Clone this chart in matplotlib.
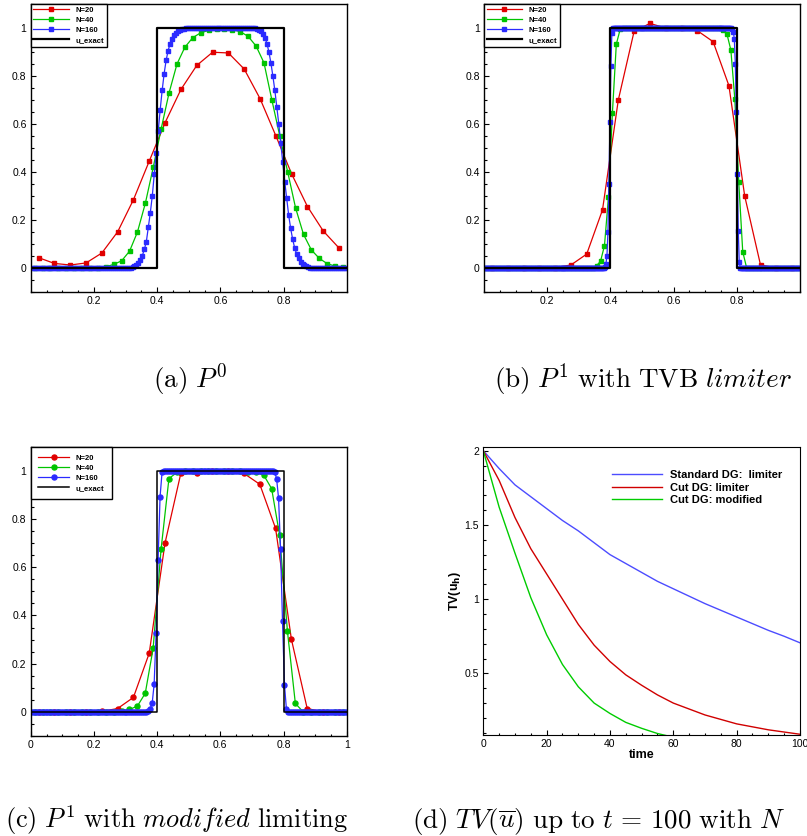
import numpy as np
import matplotlib.pyplot as plt
from matplotlib.ticker import MultipleLocator

plt.rcParams["font.family"] = ["Liberation Sans", "DejaVu Sans"]

# cell centres of the meshes
x20 = (np.arange(20) + 0.5) / 20
x40 = (np.arange(40) + 0.5) / 40
x80 = (np.arange(80) + 0.5) / 80
x160 = (np.arange(160) + 0.5) / 160
x320 = (np.arange(320) + 0.5) / 320

x_exact = [0.0, 0.4, 0.4, 0.8, 0.8, 1.0]
u_exact = [0.0, 0.0, 1.0, 1.0, 0.0, 0.0]

# (a) P0
a_n20 = [0.043, 0.019, 0.0125, 0.021, 0.0625, 0.151, 0.285, 0.446, 0.606, 0.744,
         0.844, 0.899, 0.896, 0.829, 0.706, 0.551, 0.392, 0.256, 0.154, 0.083]
a_n40 = [0.002, 0.001, 0.0, 0.0, 0.0, 0.0, 0.0, 0.0, 0.001, 0.005,
         0.015, 0.03, 0.07, 0.15, 0.27, 0.42, 0.58, 0.73, 0.85, 0.92,
         0.96, 0.98, 0.99, 0.995, 0.995, 0.993, 0.985, 0.965, 0.925, 0.855,
         0.70, 0.55, 0.40, 0.25, 0.14, 0.075, 0.04, 0.018, 0.008, 0.003]
a_n160 = ([0.0] * 50
          + [0.002, 0.004, 0.008, 0.014, 0.022, 0.034, 0.052, 0.078, 0.11, 0.17,
             0.23, 0.30, 0.39, 0.48, 0.57, 0.66, 0.74, 0.81, 0.865, 0.905,
             0.935, 0.956, 0.971, 0.981, 0.988, 0.992, 0.995, 0.997, 0.998, 0.999]
          + [1.0] * 33
          + [0.998, 0.996, 0.992, 0.986, 0.976, 0.96, 0.935, 0.90, 0.855, 0.80,
             0.74, 0.67, 0.60, 0.52, 0.44, 0.36, 0.29, 0.22, 0.165, 0.12,
             0.085, 0.058, 0.04, 0.026, 0.017, 0.011, 0.007, 0.004, 0.002, 0.001]
          + [0.0] * 17)

# (b) P1 with TVB limiter
b_n20 = [0.0, 0.0, 0.0, 0.0, 0.002, 0.0125, 0.058, 0.242, 0.70, 0.986,
         1.019, 1.0, 1.0, 0.989, 0.943, 0.76, 0.30, 0.013, 0.0, 0.0]
b_n40 = ([0.0] * 28
         + [0.01, 0.028, 0.093, 0.294, 0.644, 0.933, 0.996]
         + [1.0] * 24
         + [0.998, 0.99, 0.975, 0.908, 0.704, 0.357, 0.068]
         + [0.0] * 14)
b_n160 = ([0.0] * 122
          + [0.005, 0.017, 0.051, 0.148, 0.35, 0.61, 0.843, 0.979]
          + [1.0] * 121
          + [0.995, 0.985, 0.954, 0.85, 0.648, 0.392, 0.155, 0.023, 0.002]
          + [0.0] * 60)

# (c) P1 with modified limiting
c_n20 = [0.0, 0.0, 0.0, 0.0, 0.002, 0.014, 0.06, 0.243, 0.70, 0.989,
         0.99, 1.0, 1.0, 0.989, 0.944, 0.761, 0.301, 0.014, 0.0, 0.0]
c_n40 = ([0.0] * 11
         + [0.002, 0.01, 0.024, 0.077, 0.264, 0.674, 0.968, 0.993]
         + [1.0] * 8
         + [0.995, 0.993, 0.982, 0.926, 0.735, 0.334, 0.035]
         + [0.0] * 6)
c_n160 = ([0.0] * 59
          + [0.005, 0.014, 0.035, 0.115, 0.326, 0.63, 0.892, 0.993]
          + [1.0] * 56
          + [0.995, 0.968, 0.886, 0.677, 0.375, 0.111, 0.01]
          + [0.0] * 30)

# (d) total variation vs time
t = [0, 5, 10, 15, 20, 25, 30, 35, 40, 45, 50, 55, 60, 65, 70, 75, 80, 85, 90, 95, 100]
tv_std = [2.0, 1.88, 1.77, 1.69, 1.61, 1.53, 1.46, 1.38, 1.30, 1.24, 1.18,
          1.12, 1.07, 1.02, 0.97, 0.925, 0.88, 0.835, 0.79, 0.75, 0.706]
tv_cut = [2.0, 1.80, 1.55, 1.34, 1.17, 1.00, 0.83, 0.69, 0.58, 0.49, 0.42,
          0.355, 0.30, 0.26, 0.22, 0.19, 0.16, 0.14, 0.12, 0.105, 0.09]
t_mod = [0, 5, 10, 15, 20, 25, 30, 35, 40, 45, 50, 55, 60, 65, 70]
tv_mod = [2.0, 1.62, 1.31, 1.01, 0.76, 0.56, 0.41, 0.30, 0.23, 0.17, 0.13,
          0.095, 0.07, 0.055, 0.04]

RED = "#e00000"
GREEN = "#00c400"
BLUE = "#2a2aff"

W, H = 807, 836
fig = plt.figure(figsize=(W / 100, H / 100), dpi=100)


def box(l, t_, r, b):
    return [l / W, 1 - b / H, (r - l) / W, (b - t_) / H]


def style_axes(ax, xt):
    ax.set_xlim(0, 1)
    ax.set_ylim(-0.1, 1.1)
    ax.set_xticks(xt)
    ax.set_xticklabels([("%g" % v) for v in xt])
    ax.set_yticks([0, 0.2, 0.4, 0.6, 0.8, 1.0])
    ax.set_yticklabels(["0", "0.2", "0.4", "0.6", "0.8", "1"])
    ax.xaxis.set_minor_locator(MultipleLocator(0.05))
    ax.yaxis.set_minor_locator(MultipleLocator(0.05))
    ax.tick_params(which="both", direction="in", width=0.8, labelsize=7.5, pad=3)
    ax.tick_params(which="major", length=3.5)
    ax.tick_params(which="minor", length=1.8)
    for s in ax.spines.values():
        s.set_linewidth(1.0)


def cell_panel(ax, s20, xg40, s40, xg160, s160, mk, ms, exact_lw, pad, hl, xt):
    ax.plot(x20, s20, color=RED, lw=0.9, marker=mk, ms=ms, label="N=20")
    ax.plot(xg40, s40, color=GREEN, lw=0.9, marker=mk, ms=ms, label="N=40")
    ax.plot(xg160, s160, color=BLUE, lw=0.9, marker=mk, ms=ms, label="N=160")
    ax.plot(x_exact, u_exact, color="black", lw=exact_lw, label="u_exact")
    style_axes(ax, xt)
    leg = ax.legend(loc="upper left", bbox_to_anchor=(0, 1), borderaxespad=0,
                    fancybox=False, edgecolor="black", framealpha=1,
                    prop={"size": 5.5, "weight": "bold"}, handlelength=hl,
                    handletextpad=0.9, labelspacing=0.35, borderpad=pad)
    leg.get_frame().set_linewidth(1.0)


ax_a = fig.add_axes(box(30.7, 4, 347, 292))
cell_panel(ax_a, a_n20, x40, a_n40, x160, a_n160, "s", 2.4, 1.6, 0.35, 4.6,
           [0.2, 0.4, 0.6, 0.8])

ax_b = fig.add_axes(box(484, 4, 800, 292))
cell_panel(ax_b, b_n20, x80, b_n40, x320, b_n160, "s", 2.4, 1.6, 0.35, 4.6,
           [0.2, 0.4, 0.6, 0.8])

ax_c = fig.add_axes(box(30.7, 446.7, 346.7, 736))
cell_panel(ax_c, c_n20, x40, c_n40, x160, c_n160, "o", 3.6, 1.1, 1.0, 4.0,
           [0, 0.2, 0.4, 0.6, 0.8, 1])

# (d)
ax_d = fig.add_axes(box(483.3, 446.7, 800, 735))
ax_d.plot(t, tv_std, color="#4c4cff", lw=1.0, label="Standard DG:  limiter")
ax_d.plot(t, tv_cut, color="#d00000", lw=1.0, label="Cut DG: limiter")
ax_d.plot(t_mod, tv_mod, color="#00cc00", lw=1.0, label="Cut DG: modified")
ax_d.set_xlim(0, 100)
ax_d.set_ylim(0.085, 2.027)
ax_d.set_xticks([0, 20, 40, 60, 80, 100])
ax_d.set_yticks([0.5, 1, 1.5, 2])
ax_d.set_yticklabels(["0.5", "1", "1.5", "2"])
ax_d.xaxis.set_minor_locator(MultipleLocator(5))
ax_d.yaxis.set_minor_locator(MultipleLocator(0.1))
ax_d.tick_params(which="both", direction="in", width=0.8, labelsize=7.5, pad=3)
ax_d.tick_params(which="major", length=3.5)
ax_d.tick_params(which="minor", length=1.8)
ax_d.set_xlabel("time", fontsize=9, fontweight="bold", labelpad=0)
ax_d.set_ylabel(r"TV(u$_\mathbf{h}$)", fontsize=9, fontweight="bold", labelpad=1)
ax_d.legend(loc="upper left", bbox_to_anchor=(0.406, 0.918), frameon=False,
            prop={"size": 8, "weight": "bold"}, handlelength=4.5,
            handletextpad=0.75, labelspacing=0.22, borderpad=0, borderaxespad=0)

# captions
cap = dict(math_fontfamily="cm", va="baseline")
fig.text(190 / W, 1 - 388 / H, r"$\mathrm{(a)}\ P^0$", ha="center",
         fontsize=19.5, **cap)
fig.text(643 / W, 1 - 388 / H,
         r"$\mathrm{(b)}\ P^1\ \mathrm{with\ TVB}\ \mathit{limiter}$", ha="center",
         fontsize=19.5, **cap)
fig.text(176 / W, 1 - 828 / H,
         r"$\mathrm{(c)}\ P^1\ \mathrm{with}\ \mathit{modified}\ \mathrm{limiting}$",
         ha="center", fontsize=19, **cap)
fig.text(412 / W, 1 - 828 / H,
         r"$\mathrm{(d)}\ TV(\overline{u})\ \mathrm{up\ to}\ t\,=\,100\ \mathrm{with}\ N$",
         ha="left", fontsize=19.5, **cap)

plt.savefig("out.png", dpi=100)
